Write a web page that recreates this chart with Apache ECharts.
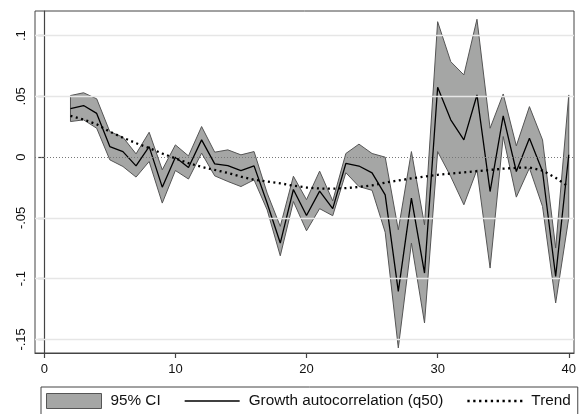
<!DOCTYPE html>
<html>
<head>
<meta charset="utf-8">
<script src="https://cdn.jsdelivr.net/npm/echarts@6/dist/echarts.min.js"></script>
<style>
  html, body { margin: 0; padding: 0; background: #fff; }
  #chart { width: 579px; height: 414px; }
</style>
</head>
<body>
<div id="chart"></div>
<script>
  // lag (horizon) values
  const lags = [2, 3, 4, 5, 6, 7, 8, 9, 10, 11, 12, 13, 14, 15, 16, 17, 18, 19, 20, 21,
    22, 23, 24, 25, 26, 27, 28, 29, 30, 31, 32, 33, 34, 35, 36, 37, 38, 39, 40]

  const median = [0.040, 0.0425, 0.036, 0.0087, 0.0046, -0.0072, 0.0087, -0.0247, 0.0, -0.0085,
    0.0142, -0.0055, -0.0069, -0.011, -0.0072, -0.038, -0.0707, -0.0266, -0.048, -0.028,
    -0.0424, -0.0052, -0.0073, -0.013, -0.031, -0.1105, -0.0337, -0.0954, 0.0576, 0.0307,
    0.0142, 0.0512, -0.0283, 0.034, -0.0118, 0.0156, -0.0118, -0.0982, 0.002]

  const upper = [0.0507, 0.053, 0.048, 0.021, 0.0164, 0.0027, 0.0205, -0.0104, 0.0101, 0.001,
    0.0252, 0.0041, 0.006, 0.0019, 0.0046, -0.0296, -0.057, -0.0157, -0.035, -0.0115,
    -0.036, 0.003, 0.0107, 0.003, 0.0, -0.0598, 0.0046, -0.0557, 0.1115, 0.0786,
    0.0677, 0.1135, 0.0238, 0.052, 0.0093, 0.0416, 0.0142, -0.0748, 0.0512]

  const lower = [0.0293, 0.0307, 0.0238, -0.0022, -0.0077, -0.0164, -0.0036, -0.0378, -0.011, -0.018,
    0.0033, -0.0154, -0.02, -0.0242, -0.0187, -0.0434, -0.0812, -0.0365, -0.0606, -0.0424,
    -0.0482, -0.0128, -0.0242, -0.0273, -0.0618, -0.157, -0.0707, -0.1365, 0.0046, -0.016,
    -0.0392, -0.0104, -0.0913, 0.017, -0.0329, -0.009, -0.0406, -0.12, -0.050]

  const trend = [0.034, 0.031, 0.027, 0.021, 0.016, 0.0115, 0.0075, 0.003, -0.001, -0.005,
    -0.008, -0.0105, -0.013, -0.016, -0.0185, -0.020, -0.0215, -0.0235, -0.025, -0.0258,
    -0.026, -0.0255, -0.0245, -0.0232, -0.021, -0.0192, -0.0175, -0.016, -0.0145, -0.0135,
    -0.0125, -0.0115, -0.0105, -0.0095, -0.0088, -0.0085, -0.011, -0.017, -0.0245]

  const xTicks = [0, 10, 20, 30, 40]
  const yTicks = [-0.15, -0.1, -0.05, 0, 0.05, 0.1]

  const FONT = "'Liberation Sans', Arial, sans-serif"
  const BAND = '#a5a6a5'
  const EDGE = '#555555'

  const pairs = (ys) => lags.map((x, i) => [x, ys[i]])

  function yLabel(v) {
    if (v === 0) return '0'
    let s = String(Math.round(v * 100) / 100)
    return s.replace('0.', '.')
  }

  // legend icons: solid bar and a row of dots, kept at their aspect ratio
  const solidIcon = 'path://M0,0h54v1.3h-54z'
  let dots = ''
  for (let k = 0; k < 10; k++) dots += 'M' + (k * 5.6) + ',0h2.2v2.2h-2.2z'
  const dottedIcon = 'path://' + dots

  // shaded band drawn as one polygon from the upper and lower bounds
  function renderBand(params, api) {
    if (params.dataIndex !== 0) return null
    let pts = []
    for (let i = 0; i < lags.length; i++) pts.push(api.coord([lags[i], upper[i]]))
    for (let i = lags.length - 1; i >= 0; i--) pts.push(api.coord([lags[i], lower[i]]))
    return {
      type: 'polygon',
      shape: { points: pts },
      style: { fill: BAND, stroke: EDGE, lineWidth: 1 },
    }
  }

  const chart = echarts.init(document.getElementById('chart'), null, { renderer: 'canvas' })

  chart.setOption({
    animation: false,
    backgroundColor: '#ffffff',
    textStyle: { fontFamily: FONT },
    grid: {
      left: 35, right: 2, top: 11, bottom: 61,
      show: true, borderColor: '#444', borderWidth: 1, backgroundColor: '#fff',
    },
    xAxis: {
      type: 'value',
      min: -0.705,
      max: 40.4,
      axisLine: { show: true, onZero: false, lineStyle: { color: '#444', width: 1.2 } },
      axisTick: { show: true, length: 5, customValues: xTicks, lineStyle: { color: '#444', width: 1.2 } },
      axisLabel: { customValues: xTicks, fontSize: 13, color: '#111', margin: 10, fontFamily: FONT },
      splitLine: { show: false },
    },
    yAxis: {
      type: 'value',
      min: -0.1612,
      max: 0.1203,
      axisLine: { show: true, lineStyle: { color: '#444', width: 1.2 } },
      axisTick: { show: true, length: 6, customValues: yTicks, lineStyle: { color: '#444', width: 1.2 } },
      axisLabel: {
        customValues: yTicks, rotate: 90, fontSize: 13, color: '#111', margin: 7,
        fontFamily: FONT, formatter: yLabel,
      },
      splitLine: { show: false },
    },
    legend: {
      left: 41, top: 387,
      padding: [6, 7, 12, 5],
      borderColor: '#444', borderWidth: 1,
      itemWidth: 55, itemHeight: 15, itemGap: 24,
      symbolKeepAspect: true,
      textStyle: { fontSize: 15.3, color: '#111', fontFamily: FONT, padding: [0, 0, 0, 4] },
      data: [
        { name: '95% CI', icon: 'rect', itemStyle: { color: BAND, borderColor: EDGE, borderWidth: 1 } },
        { name: 'Growth autocorrelation (q50)', icon: solidIcon, itemStyle: { color: '#000', borderWidth: 0 } },
        { name: 'Trend', icon: dottedIcon, itemStyle: { color: '#000', borderWidth: 0 } },
      ],
    },
    series: [
      {
        // grid lines and zero reference
        name: 'grid', type: 'line', data: [], z: 1, silent: true,
        markLine: {
          silent: true, symbol: ['none', 'none'], label: { show: false },
          animation: false,
          data: yTicks.filter((v) => v !== 0).map((v) => ({ yAxis: v, lineStyle: { color: '#e6e6e6', width: 1.3, type: 'solid' } }))
            .concat([{ yAxis: 0, lineStyle: { color: '#777', width: 1, type: [1, 2] } }]),
        },
      },
      {
        name: '95% CI', type: 'custom', z: 2,
        data: lags.map((x, i) => [x, lower[i], upper[i]]),
        encode: { x: 0, y: [1, 2] },
        itemStyle: { color: BAND },
        renderItem: renderBand,
      },
      {
        name: 'Growth autocorrelation (q50)', type: 'line', data: pairs(median), symbol: 'none', z: 4,
        itemStyle: { color: '#000' },
        lineStyle: { color: '#000', width: 1.3 },
      },
      {
        name: 'Trend', type: 'line', data: pairs(trend), symbol: 'none', z: 5,
        itemStyle: { color: '#000' },
        lineStyle: { color: '#000', width: 2.3, type: [2, 3.5] },
      },
    ],
  })
</script>
</body>
</html>
